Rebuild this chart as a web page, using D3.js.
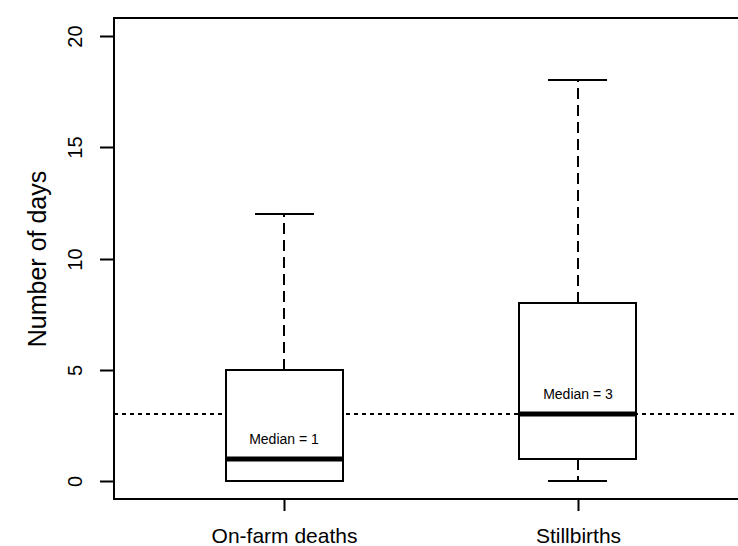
<!DOCTYPE html>
<html>
<head>
<meta charset="utf-8" />
<title>Number of days</title>
<script src="https://cdn.jsdelivr.net/npm/d3@7"></script>
<style>
  body { margin: 0; background: #fff; }
  text { font-family: "Liberation Sans", Arial, sans-serif; fill: #000; }
</style>
</head>
<body>
<div id="chart"></div>
<script>
// data
var groups = ["On-farm deaths", "Stillbirths"];
var lowWhisker = [0, 0];
var q1 = [0, 1];
var median = [1, 3];
var q3 = [5, 8];
var highWhisker = [12, 18];
var yTicks = [0, 5, 10, 15, 20];
var refLine = 3;

var width = 738, height = 546;
var svg = d3.select("#chart").append("svg")
    .attr("width", width)
    .attr("height", height);

// R style: xlim 0.5..2.5 and ylim 0..20, each extended by 4%
var x = d3.scaleLinear().domain([0.42, 2.58]).rangeRound([114, 748]);
var y = d3.scaleLinear().domain([-0.8, 20.8]).rangeRound([499, 18]);

// frame
svg.append("rect")
    .attr("x", x(0.42)).attr("y", y(20.8))
    .attr("width", x(2.58) - x(0.42))
    .attr("height", y(-0.8) - y(20.8))
    .attr("fill", "none").attr("stroke", "#000").attr("stroke-width", 2);

// y axis
var yAxis = svg.append("g")
    .attr("transform", "translate(" + x(0.42) + ",0)")
    .call(d3.axisLeft(y).tickValues(yTicks).tickSize(14).tickFormat(d3.format("d")));
yAxis.select(".domain")
    .attr("d", "M0," + y(0) + "V" + y(20))
    .attr("stroke-width", 2);
yAxis.selectAll(".tick line").attr("stroke-width", 2);
yAxis.selectAll(".tick text")
    .attr("x", 0).attr("y", 0).attr("dy", null)
    .attr("transform", "translate(-32,0) rotate(-90)")
    .attr("text-anchor", "middle")
    .attr("font-size", 20);

// x axis
var xAxis = svg.append("g")
    .attr("transform", "translate(0," + y(-0.8) + ")")
    .call(d3.axisBottom(x).tickValues([1, 2]).tickSize(12)
        .tickFormat(function (d) { return groups[d - 1]; }));
xAxis.select(".domain")
    .attr("d", "M" + x(1) + ",0H" + x(2))
    .attr("stroke-width", 2);
xAxis.selectAll(".tick line").attr("stroke-width", 2);
xAxis.selectAll(".tick text")
    .attr("y", 44).attr("dy", null)
    .attr("font-size", 21);
svg.selectAll(".tick text").attr("font-family", null);

// y title
svg.append("text")
    .attr("transform", "translate(46," + y(10) + ") rotate(-90)")
    .attr("text-anchor", "middle")
    .attr("font-size", 25)
    .text("Number of days");

// reference line at 3 days
svg.append("line")
    .attr("x1", x(0.42)).attr("x2", x(2.58))
    .attr("y1", y(refLine)).attr("y2", y(refLine))
    .attr("stroke", "#000").attr("stroke-width", 2)
    .attr("stroke-dasharray", "4,4");

// boxes
var halfBox = 0.2, halfCap = 0.1;
groups.forEach(function (g, i) {
    var c = i + 1;
    var b = svg.append("g");
    // whiskers
    b.append("line")
        .attr("x1", x(c)).attr("x2", x(c))
        .attr("y1", y(q3[i])).attr("y2", y(highWhisker[i]))
        .attr("stroke", "#000").attr("stroke-width", 2)
        .attr("stroke-dasharray", "11,6");
    b.append("line")
        .attr("x1", x(c)).attr("x2", x(c))
        .attr("y1", y(q1[i])).attr("y2", y(lowWhisker[i]))
        .attr("stroke", "#000").attr("stroke-width", 2)
        .attr("stroke-dasharray", "11,6");
    // box
    b.append("rect")
        .attr("x", x(c - halfBox)).attr("y", y(q3[i]))
        .attr("width", x(c + halfBox) - x(c - halfBox))
        .attr("height", y(q1[i]) - y(q3[i]))
        .attr("fill", "#fff").attr("stroke", "#000").attr("stroke-width", 2);
    // caps
    [lowWhisker[i], highWhisker[i]].forEach(function (v) {
        b.append("line")
            .attr("x1", x(c - halfCap)).attr("x2", x(c + halfCap))
            .attr("y1", y(v)).attr("y2", y(v))
            .attr("stroke", "#000").attr("stroke-width", 2);
    });
    // median
    b.append("line")
        .attr("x1", x(c - halfBox)).attr("x2", x(c + halfBox))
        .attr("y1", y(median[i])).attr("y2", y(median[i]))
        .attr("stroke", "#000").attr("stroke-width", 5);
    b.append("text")
        .attr("x", x(c)).attr("y", y(median[i]) - 15)
        .attr("text-anchor", "middle")
        .attr("font-size", 14)
        .text("Median = " + median[i]);
});
</script>
</body>
</html>
